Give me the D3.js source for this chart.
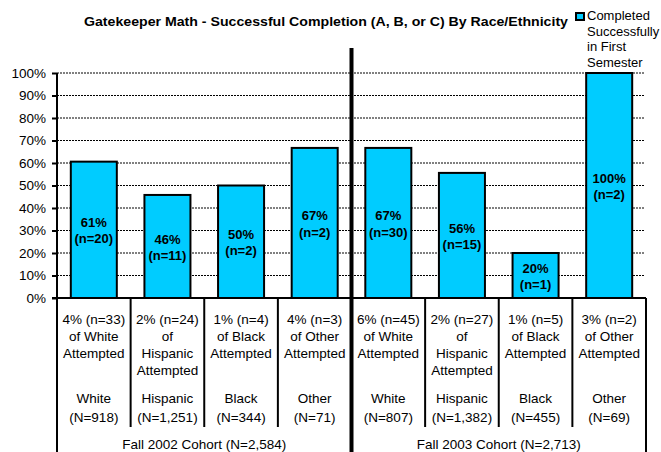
<!DOCTYPE html>
<html><head><meta charset="utf-8">
<script src="https://cdn.jsdelivr.net/npm/d3@7"></script>
<style>body{margin:0;background:#fff;overflow:hidden}svg{display:block}text{font-family:"Liberation Sans",Arial,sans-serif}</style>
</head><body>
<svg id="c" width="661" height="452"></svg>
<script>
const title = "Gatekeeper Math - Successful Completion (A, B, or C) By Race/Ethnicity";
const legendLines = ["Completed", "Successfully", "in First", "Semester"];
const categories = ["White", "Hispanic", "Black", "Other", "White", "Hispanic", "Black", "Other"];
const categoryN = ["(N=918)", "(N=1,251)", "(N=344)", "(N=71)", "(N=807)", "(N=1,382)", "(N=455)", "(N=69)"];
const attemptedLines = [
  ["4% (n=33)", "of White", "Attempted"],
  ["2% (n=24)", "of", "Hispanic", "Attempted"],
  ["1% (n=4)", "of Black", "Attempted"],
  ["4% (n=3)", "of Other", "Attempted"],
  ["6% (n=45)", "of White", "Attempted"],
  ["2% (n=27)", "of", "Hispanic", "Attempted"],
  ["1% (n=5)", "of Black", "Attempted"],
  ["3% (n=2)", "of Other", "Attempted"]
];
const values = [60.6, 45.8, 50, 66.7, 66.7, 55.6, 20, 100];
const barLabels = ["61%", "46%", "50%", "67%", "67%", "56%", "20%", "100%"];
const barCounts = ["(n=20)", "(n=11)", "(n=2)", "(n=2)", "(n=30)", "(n=15)", "(n=1)", "(n=2)"];
const cohorts = ["Fall 2002 Cohort (N=2,584)", "Fall 2003 Cohort (N=2,713)"];
const yTicks = [0, 10, 20, 30, 40, 50, 60, 70, 80, 90, 100];

const svg = d3.select("#c");
const L = 57, R = 646, T = 73, B = 298;
const x = d3.scaleBand().domain(d3.range(categories.length)).range([L, R]).paddingInner(0).paddingOuter(0);
const y = d3.scaleLinear().domain([0, 100]).range([B, T]);
const bw = x.bandwidth() * 0.625;

// gridlines
svg.append("g").selectAll("line").data(yTicks.filter(d => d > 0)).join("line")
  .attr("x1", L).attr("x2", 644).attr("y1", d => y(d)).attr("y2", d => y(d))
  .attr("stroke", "#000").attr("stroke-width", 1).attr("stroke-dasharray", "2,1");

// y axis
const yAxis = d3.axisLeft(y).tickValues(yTicks).tickFormat(d => d + "%").tickSize(5).tickPadding(6);
const ga = svg.append("g").attr("transform", `translate(${L},0)`).call(yAxis);
ga.select(".domain").remove();
ga.selectAll(".tick line").attr("stroke", "#000").attr("stroke-width", 2);
ga.selectAll(".tick text").attr("font-size", 13.5).attr("fill", "#000").style("font-family", "Liberation Sans, Arial, sans-serif");
svg.append("line").attr("x1", L).attr("x2", L).attr("y1", T).attr("y2", B).attr("stroke", "#000").attr("stroke-width", 2);

// bars
svg.append("g").selectAll("rect").data(values).join("rect")
  .attr("x", (d, i) => x(i) + (x.bandwidth() - bw) / 2)
  .attr("y", d => y(d)).attr("width", bw).attr("height", d => B - y(d))
  .attr("fill", "#00CCFF").attr("stroke", "#000").attr("stroke-width", 2);

// bar labels
const bl = svg.append("g").selectAll("text").data(values).join("text")
  .attr("text-anchor", "middle").attr("font-size", 13).attr("font-weight", "bold")
  .attr("x", (d, i) => x(i) + x.bandwidth() / 2)
  .attr("y", d => (y(d) + B) / 2);
bl.append("tspan").attr("x", (d, i) => x(i) + x.bandwidth() / 2).attr("dy", "-0.2em").text((d, i) => barLabels[i]);
bl.append("tspan").attr("x", (d, i) => x(i) + x.bandwidth() / 2).attr("dy", "1.25em").text((d, i) => barCounts[i]);

// baseline
svg.append("line").attr("x1", L - 5).attr("x2", R).attr("y1", B).attr("y2", B).attr("stroke", "#000").attr("stroke-width", 2);

// category dividers
const inner = [1, 2, 3, 5, 6, 7];
svg.append("g").selectAll("line").data(inner).join("line")
  .attr("x1", d => x(d)).attr("x2", d => x(d)).attr("y1", B).attr("y2", 427)
  .attr("stroke", "#000").attr("stroke-width", 2);
svg.append("g").selectAll("line").data([0, 8]).join("line")
  .attr("x1", d => d === 8 ? R : x(d)).attr("x2", d => d === 8 ? R : x(d)).attr("y1", B).attr("y2", 452)
  .attr("stroke", "#000").attr("stroke-width", 2);
// thick cohort divider
svg.append("line").attr("x1", x(4)).attr("x2", x(4)).attr("y1", 48).attr("y2", 452)
  .attr("stroke", "#000").attr("stroke-width", 4);

// category texts
const cg = svg.append("g").attr("font-size", 13.5).attr("fill", "#000").attr("text-anchor", "middle");
attemptedLines.forEach((lines, i) => {
  const cx = x(i) + x.bandwidth() / 2;
  lines.forEach((t, j) => {
    cg.append("text").attr("x", cx).attr("y", 324 + j * 17).text(t);
  });
  cg.append("text").attr("x", cx).attr("y", 403).text(categories[i]);
  cg.append("text").attr("x", cx).attr("y", 422).text(categoryN[i]);
});
cohorts.forEach((c, k) => {
  cg.append("text").attr("x", (x(k * 4) + (k === 1 ? R : x(4))) / 2).attr("y", 449).text(c);
});

// title
svg.append("text").attr("x", 84).attr("y", 26).attr("text-anchor", "start")
  .attr("font-size", 13.5).attr("font-weight", "bold")
  .attr("textLength", 484).attr("lengthAdjust", "spacingAndGlyphs").text(title);

// legend
svg.append("rect").attr("x", 576).attr("y", 13).attr("width", 8).attr("height", 7)
  .attr("fill", "#00CCFF").attr("stroke", "#000").attr("stroke-width", 2);
svg.append("g").selectAll("text").data(legendLines).join("text")
  .attr("x", 587).attr("y", (d, i) => 20 + i * 15.7).attr("font-size", 13).text(d => d);
</script>
</body></html>
